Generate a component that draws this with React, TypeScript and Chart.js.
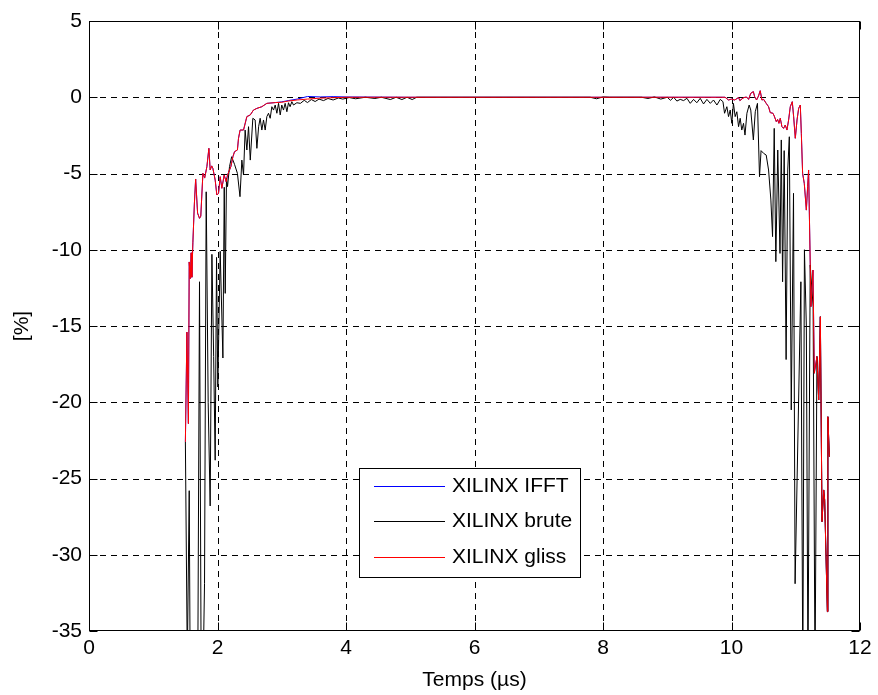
import React, { useEffect, useRef } from 'react';
import { Chart, registerables } from 'chart.js';

Chart.register(...registerables);

const FONT = '"Liberation Sans", Arial, Helvetica, sans-serif';

const xTickValues = [0, 2, 4, 6, 8, 10, 12];
const yTickValues = [5, 0, -5, -10, -15, -20, -25, -30, -35];
const seriesNames = ['XILINX IFFT', 'XILINX brute', 'XILINX gliss'];
const seriesColors = ['#0000ff', '#000000', '#ff0000'];

const timeGliss = [
  1.50, 1.524, 1.547, 1.56, 1.575, 1.59, 1.60, 1.617, 1.64, 1.66, 1.69, 1.72, 1.74, 1.773, 1.80, 1.835,
  1.866, 1.886, 1.91, 1.928, 1.964, 1.99, 2.016, 2.042, 2.068, 2.104, 2.135, 2.156, 2.187, 2.208, 2.24,
  2.265, 2.31, 2.327, 2.352, 2.405, 2.457, 2.51, 2.56, 2.613, 2.69, 2.768, 2.9, 3.0, 3.1, 3.24, 3.4, 3.6,
  3.8, 4.0, 5.0, 6.0, 7.0, 8.0, 9.0, 9.9, 9.954, 10.0, 10.05, 10.11, 10.13, 10.18, 10.21, 10.24, 10.266,
  10.30, 10.34, 10.36, 10.39, 10.42, 10.447, 10.473, 10.50, 10.54, 10.577, 10.603, 10.645, 10.665, 10.697,
  10.717, 10.738, 10.759, 10.785, 10.81, 10.837, 10.863, 10.889, 10.915, 10.946, 10.967, 10.993, 11.02,
  11.045, 11.071, 11.087, 11.107, 11.133, 11.165, 11.185, 11.20, 11.237, 11.268, 11.289, 11.33, 11.357,
  11.383, 11.409, 11.435, 11.45, 11.492, 11.50, 11.523,
];

const gliss = [
  -22.6, -15.4, -21.4, -10.8, -11.9, -10.2, -11.8, -9.5, -7.0, -5.36, -7.6, -7.94, -7.8, -4.99, -5.3, -4.55,
  -3.35, -4.77, -4.5, -4.66, -5.43, -6.41, -6.30, -5.21, -5.97, -5.10, -5.54, -5.10, -4.77, -4.55, -3.9,
  -3.57, -3.46, -2.69, -2.15, -2.15, -1.27, -1.16, -0.84, -0.73, -0.62, -0.40, -0.35, -0.33, -0.25, -0.18, -0.12, -0.06,
  -0.03, 0, 0, 0, 0, 0, 0, 0, -0.18, -0.12, -0.18, -0.02, -0.22, -0.05, 0, 0, -0.14,
  0.26, 0.37, 0.04, -0.18, 0.08, 0.43, -0.18, -0.14, -0.40, -0.62, -1.01, -1.05, -1.23, -1.60,
  -1.45, -1.71, -1.38, -1.93, -2.04, -1.82, -2.15, -1.49, -0.62, -0.29, -1.27, -2.69, -1.49,
  -0.73, -0.51, -2.37, -4.99, -5.65, -7.4, -5.86, -4.77, -13.73, -11.33, -18.1, -17.0, -19.85,
  -14.39, -27.83, -25.75, -26.4, -33.73, -20.95, -23.57,
];

const ifft = [
  -22.6, -15.4, -21.4, -10.8, -11.9, -10.2, -11.8, -9.5, -7.0, -5.36, -7.6, -7.94, -7.8, -4.99, -5.3, -4.55,
  -3.35, -4.77, -4.5, -4.66, -5.43, -6.41, -6.30, -5.21, -5.97, -5.10, -5.54, -5.10, -4.77, -4.55, -3.9,
  -3.57, -3.46, -2.69, -2.15, -2.15, -1.27, -1.16, -0.84, -0.73, -0.62, -0.40, -0.35, -0.30, -0.22, -0.12, 0.05, 0.02,
  0.04, 0.02, 0, 0, 0, 0, 0, 0, -0.18, -0.12, -0.18, -0.02, -0.22, -0.05, 0, 0, -0.14,
  0.26, 0.37, 0.04, -0.18, 0.08, 0.43, -0.18, -0.14, -0.40, -0.62, -1.01, -1.05, -1.23, -1.60,
  -1.45, -1.71, -1.38, -1.93, -2.04, -1.82, -2.15, -1.49, -0.62, -0.29, -1.27, -2.69, -1.49,
  -0.73, -0.51, -2.37, -4.99, -5.65, -7.4, -5.86, -4.77, -13.73, -11.33, -18.1, -17.0, -19.85,
  -14.39, -27.83, -25.75, -26.4, -33.73, -20.95, -23.57,
];

const timeBrute = [
  1.50, 1.53, 1.56, 1.575, 1.59, 1.61, 1.65, 1.695, 1.72, 1.745, 1.775, 1.798, 1.824, 1.855, 1.886, 1.913,
  1.94, 1.964, 1.985, 2.005, 2.042, 2.084, 2.105, 2.12, 2.14, 2.156, 2.187, 2.22, 2.265, 2.31, 2.35, 2.379,
  2.405, 2.43, 2.457, 2.483, 2.51, 2.55, 2.586, 2.613, 2.64, 2.664, 2.69, 2.716, 2.742, 2.768, 2.794, 2.82,
  2.846, 2.872, 2.898, 2.924, 2.95, 2.976, 3.0, 3.027, 3.053, 3.08, 3.105, 3.13, 3.157, 3.183, 3.235, 3.29,
  3.35, 3.40, 3.46, 3.52, 3.58, 3.65, 3.72, 3.80, 3.88, 3.95, 4.05, 4.15, 4.30, 4.45, 4.55, 4.69, 4.78,
  4.87, 4.95, 5.03, 5.10, 7.80, 7.90, 8.00, 8.10, 8.60, 8.70, 8.80, 8.90, 9.00, 9.05, 9.10, 9.15, 9.202,
  9.254, 9.306, 9.358, 9.41, 9.46, 9.513, 9.565, 9.617, 9.67, 9.72, 9.773, 9.825, 9.867, 9.892, 9.928,
  9.954, 9.98, 10.005, 10.03, 10.057, 10.083, 10.11, 10.135, 10.16, 10.187, 10.21, 10.24, 10.275, 10.30,
  10.34, 10.37, 10.404, 10.436, 10.46, 10.50, 10.54, 10.577, 10.613, 10.639, 10.665, 10.69, 10.72, 10.755,
  10.775, 10.795, 10.82, 10.85, 10.875, 10.90, 10.93, 10.965, 10.99, 11.08, 11.11, 11.135, 11.165, 11.19,
  11.225, 11.27, 11.30, 11.33, 11.357, 11.383, 11.409, 11.435, 11.45, 11.492, 11.50, 11.523,
];

const brute = [
  -22.6, -37, -25.8, -38, -36, -38, -37, -36, -12.1, -37, -38, -31.9, -6.2, -20, -26.8, -10.3,
  -17, -23.8, -10.5, -19, -10.1, -17.1, -5.9, -12.86, -5.3, -5.86, -4.55, -3.9, -4.4, -4.99, -6.52, -4.12,
  -5.1, -2.15, -3.46, -1.93, -4.12, -1.38, -1.49, -3.35, -1.93, -1.38, -2.15, -1.49, -2.15, -1.27, -1.05, -1.38,
  -0.62, -0.84, -0.51, -1.05, -0.40, -1.16, -0.51, -0.84, -0.40, -0.95, -0.36, -0.62, -0.29, -0.51, -0.36, -0.40,
  -0.2, -0.35, -0.15, -0.28, -0.12, -0.22, -0.08, -0.18, -0.05, -0.12, -0.02, -0.10, 0, -0.08, 0, -0.15, 0,
  -0.15, 0, -0.15, 0, 0, -0.10, 0.02, 0, 0, -0.08, 0.02, -0.12, 0, -0.2, 0, -0.25, -0.14,
  -0.22, -0.07, -0.40, -0.14, -0.36, -0.07, -0.44, -0.14, -0.40, -0.18, -0.51, -0.14, -0.29, -1.05, -0.62,
  -1.27, -0.84, -1.71, -0.40, -1.27, -0.95, -1.93, -1.38, -2.15, -1.71, -2.48, -1.05, -0.51, -0.84,
  -2.80, -0.95, -0.40, -5.21, -3.5, -3.68, -3.79, -4.77, -6.74, -9.14, -2.04, -10.78, -3.46, -10.24,
  -2.80, -12.1, -3.5, -17.2, -4.77, -2.59, -20.5, -6.30, -31.9, -12.1, -38, -10, -15, -38,
  -11, -13.7, -38, -17.0, -19.85, -14.39, -27.83, -25.75, -26.4, -33.73, -20.95, -23.57,
];

const toPoints = (xs: number[], ys: number[]) => xs.map((x, i) => ({ x, y: ys[i] }));

const matlabAxes = {
  id: 'matlabAxes',
  beforeDatasetsDraw(chart: any) {
    const { ctx, chartArea: a, scales } = chart;
    const xs = scales.x;
    const ys = scales.y;
    ctx.save();
    ctx.strokeStyle = '#000';
    ctx.lineWidth = 1;
    ctx.setLineDash([6, 5]);
    xTickValues.forEach((v) => {
      if (v === xs.min || v === xs.max) return;
      const px = Math.round(xs.getPixelForValue(v)) + 0.5;
      ctx.beginPath();
      ctx.moveTo(px, a.top);
      ctx.lineTo(px, a.bottom);
      ctx.stroke();
    });
    yTickValues.forEach((v) => {
      if (v === ys.min || v === ys.max) return;
      const py = Math.round(ys.getPixelForValue(v)) + 0.5;
      ctx.beginPath();
      ctx.moveTo(a.left, py);
      ctx.lineTo(a.right, py);
      ctx.stroke();
    });
    ctx.restore();
  },
  afterDatasetsDraw(chart: any) {
    const { ctx, chartArea: a, scales } = chart;
    const xs = scales.x;
    const ys = scales.y;
    const L = Math.round(a.left) + 0.5;
    const R = Math.round(a.right) - 0.5;
    const T = Math.round(a.top) + 0.5;
    const B = Math.round(a.bottom) - 0.5;
    const tl = 8;
    ctx.save();
    ctx.strokeStyle = '#000';
    ctx.lineWidth = 1;
    ctx.setLineDash([]);
    ctx.strokeRect(L, T, R - L, B - T);
    ctx.beginPath();
    xTickValues.forEach((v) => {
      const px = Math.round(xs.getPixelForValue(v)) + 0.5;
      ctx.moveTo(px, B);
      ctx.lineTo(px, B - tl);
      ctx.moveTo(px, T);
      ctx.lineTo(px, T + tl);
    });
    yTickValues.forEach((v) => {
      const py = Math.round(ys.getPixelForValue(v)) + 0.5;
      ctx.moveTo(L, py);
      ctx.lineTo(L + tl, py);
      ctx.moveTo(R, py);
      ctx.lineTo(R - tl, py);
    });
    ctx.stroke();
    ctx.restore();
  },
  afterDraw(chart: any) {
    const { ctx } = chart;
    const bx = 359.5;
    const by = 468.5;
    const bw = 221;
    const bh = 109;
    ctx.save();
    ctx.setLineDash([]);
    ctx.fillStyle = '#fff';
    ctx.fillRect(bx, by, bw, bh);
    ctx.strokeStyle = '#000';
    ctx.lineWidth = 1;
    ctx.strokeRect(bx, by, bw, bh);
    ctx.font = '21px ' + FONT;
    ctx.textBaseline = 'middle';
    ctx.textAlign = 'left';
    const rows = [486.5, 521.5, 557.5];
    seriesNames.forEach((name, i) => {
      ctx.beginPath();
      ctx.strokeStyle = seriesColors[i];
      ctx.lineWidth = 1;
      ctx.moveTo(374, rows[i]);
      ctx.lineTo(445, rows[i]);
      ctx.stroke();
      ctx.fillStyle = '#000';
      ctx.fillText(name, 452, rows[i]);
    });
    ctx.restore();
  },
};

export default function App() {
  const ref = useRef<HTMLCanvasElement | null>(null);

  useEffect(() => {
    if (!ref.current) return;
    const tickFont = { family: FONT, size: 21 };
    const chart = new Chart(ref.current, {
      type: 'line',
      data: {
        datasets: [
          {
            label: seriesNames[0],
            data: toPoints(timeGliss, ifft),
            borderColor: seriesColors[0],
            borderWidth: 1,
            pointRadius: 0,
            tension: 0,
            order: 2,
          },
          {
            label: seriesNames[1],
            data: toPoints(timeBrute, brute),
            borderColor: seriesColors[1],
            borderWidth: 1,
            pointRadius: 0,
            tension: 0,
            order: 1,
          },
          {
            label: seriesNames[2],
            data: toPoints(timeGliss, gliss),
            borderColor: seriesColors[2],
            borderWidth: 1,
            pointRadius: 0,
            tension: 0,
            order: 0,
          },
        ],
      },
      options: {
        animation: false,
        responsive: false,
        devicePixelRatio: 1,
        layout: { padding: { left: 0, right: 18, top: 21, bottom: 0 } },
        plugins: { legend: { display: false }, tooltip: { enabled: false } },
        scales: {
          x: {
            type: 'linear',
            min: 0,
            max: 12,
            afterBuildTicks: (s: any) => {
              s.ticks = xTickValues.map((v) => ({ value: v }));
            },
            afterFit: (s: any) => {
              s.height = 64;
            },
            grid: { display: false, drawTicks: false },
            border: { display: false },
            ticks: { font: tickFont, color: '#000', padding: 5, autoSkip: false, maxRotation: 0 },
            title: {
              display: true,
              text: 'Temps (µs)',
              font: tickFont,
              color: '#000',
              padding: { top: 0, bottom: 2 },
            },
          },
          y: {
            type: 'linear',
            min: -35,
            max: 5,
            afterBuildTicks: (s: any) => {
              s.ticks = yTickValues.map((v) => ({ value: v }));
            },
            afterFit: (s: any) => {
              s.width = 89;
            },
            grid: { display: false, drawTicks: false },
            border: { display: false },
            ticks: { font: tickFont, color: '#000', padding: 7, autoSkip: false },
            title: {
              display: true,
              text: '[%]',
              font: tickFont,
              color: '#000',
              padding: { top: 10, bottom: 0 },
            },
          },
        },
      },
      plugins: [matlabAxes],
    } as any);
    return () => chart.destroy();
  }, []);

  return (
    <div style={{ position: 'absolute', left: 0, top: 0, width: 878, height: 695, background: '#fff' }}>
      <canvas ref={ref} width={878} height={695} style={{ width: 878, height: 695 }} />
    </div>
  );
}
